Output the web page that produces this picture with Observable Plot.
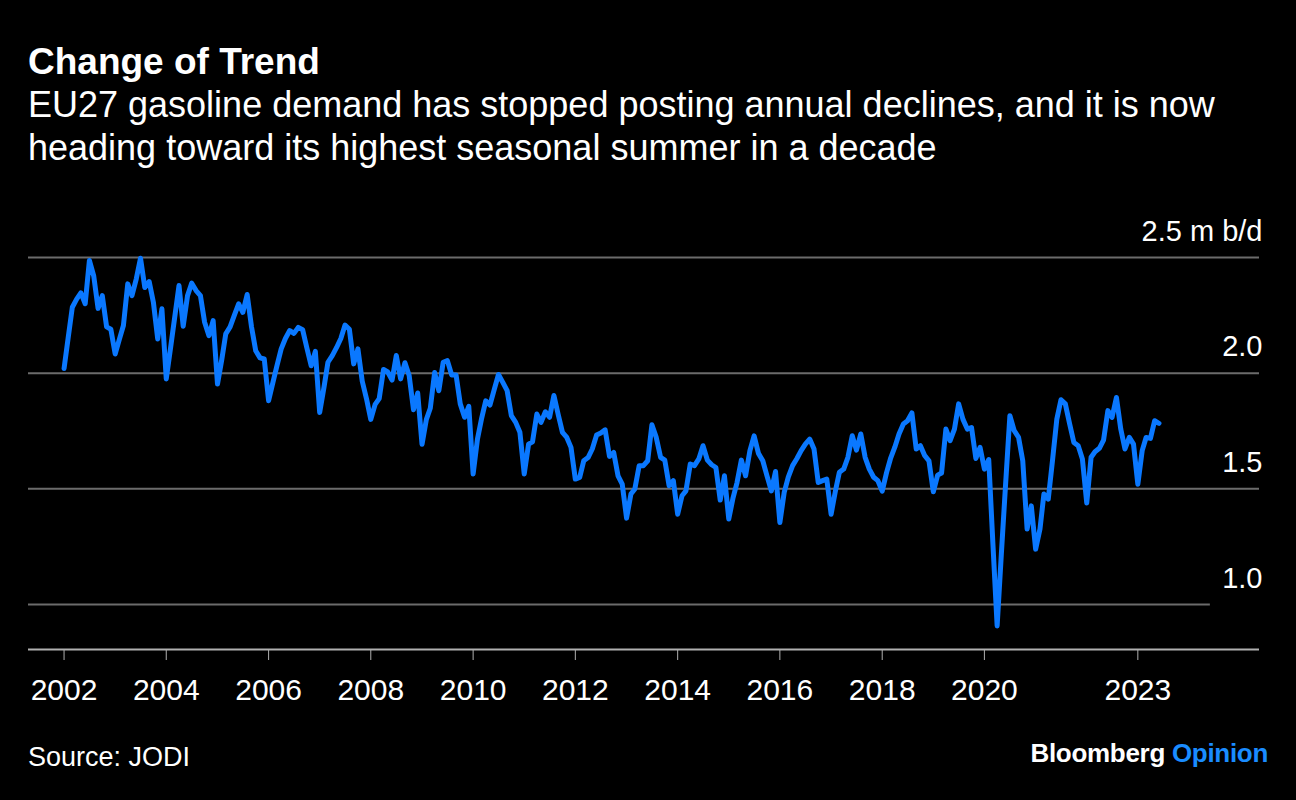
<!DOCTYPE html>
<html>
<head>
<meta charset="utf-8">
<script src="https://cdn.jsdelivr.net/npm/d3@7"></script>
<script src="https://cdn.jsdelivr.net/npm/@observablehq/plot@0.6"></script>
<style>
  html, body { margin: 0; padding: 0; background: #000; }
  body { width: 1296px; height: 800px; overflow: hidden; position: relative; color: #fff;
         font-family: "Liberation Sans", Arial, Helvetica, sans-serif; }
  #title { position: absolute; left: 28px; top: 43px; font-size: 37px; line-height: 38px; font-weight: bold; }
  #subtitle { position: absolute; left: 28px; top: 83px; font-size: 36px; line-height: 43px; }
  #chart { position: absolute; left: 0; top: 200px; }
  #source { position: absolute; left: 28px; top: 743px; font-size: 27px; line-height: 28px; }
  #brand { position: absolute; right: 28px; top: 739px; font-size: 26px; line-height: 28px; font-weight: bold; letter-spacing: -0.3px; }
  #brand span { color: #1a8cff; font-weight: bold; }
</style>
</head>
<body>
<div id="title">Change of Trend</div>
<div id="subtitle">EU27 gasoline demand has stopped posting annual declines, and it is now<br>heading toward its highest seasonal summer in a decade</div>
<div id="chart"></div>
<div id="source">Source: JODI</div>
<div id="brand">Bloomberg <span>Opinion</span></div>
<script>
// Monthly EU27 gasoline demand, million barrels per day, starting January 2002
const startMonth = "2002-01-01";
const demand = [
  2.02, 2.16, 2.285, 2.32, 2.347, 2.30, 2.487, 2.42, 2.28, 2.335, 2.20, 2.19,
  2.083, 2.148, 2.206, 2.386, 2.335, 2.408, 2.497, 2.37, 2.396, 2.307, 2.148, 2.278,
  1.975, 2.11, 2.24, 2.379, 2.203, 2.335, 2.389, 2.357, 2.335, 2.22, 2.162, 2.227,
  1.953, 2.06, 2.17, 2.20, 2.25, 2.30, 2.263, 2.34, 2.20, 2.097, 2.066, 2.061,
  1.881, 1.96, 2.03, 2.105, 2.15, 2.184, 2.172, 2.198, 2.188, 2.11, 2.032, 2.094,
  1.83, 1.94, 2.047, 2.076, 2.11, 2.15, 2.208, 2.19, 2.04, 2.105, 1.965, 1.89,
  1.80, 1.865, 1.89, 2.016, 2.005, 1.97, 2.076, 1.975, 2.045, 1.99, 1.842, 1.914,
  1.692, 1.80, 1.848, 2.003, 1.924, 2.047, 2.054, 1.992, 1.992, 1.867, 1.809, 1.856,
  1.564, 1.715, 1.80, 1.88, 1.862, 1.93, 1.994, 1.96, 1.924, 1.816, 1.787, 1.744,
  1.564, 1.693, 1.703, 1.823, 1.787, 1.833, 1.809, 1.903, 1.82, 1.744, 1.722, 1.679,
  1.542, 1.549, 1.621, 1.635, 1.672, 1.732, 1.741, 1.755, 1.64, 1.657, 1.556, 1.52,
  1.373, 1.477, 1.499, 1.60, 1.60, 1.621, 1.777, 1.722, 1.636, 1.624, 1.513, 1.535,
  1.39, 1.47, 1.491, 1.607, 1.60, 1.629, 1.686, 1.624, 1.604, 1.592, 1.451, 1.556,
  1.369, 1.462, 1.527, 1.624, 1.556, 1.665, 1.729, 1.653, 1.621, 1.556, 1.491, 1.575,
  1.354, 1.484, 1.55, 1.60, 1.63, 1.665, 1.693, 1.715, 1.672, 1.527, 1.535, 1.542,
  1.39, 1.491, 1.571, 1.585, 1.636, 1.729, 1.667, 1.737, 1.636, 1.585, 1.55, 1.535,
  1.49, 1.57, 1.63, 1.68, 1.737, 1.78, 1.794, 1.828, 1.672, 1.686, 1.643, 1.621,
  1.487, 1.559, 1.568, 1.758, 1.708, 1.758, 1.867, 1.80, 1.758, 1.765, 1.631, 1.679,
  1.585, 1.626, 1.27, 0.907, 1.218, 1.526, 1.816, 1.751, 1.722, 1.621, 1.326, 1.426,
  1.239, 1.326, 1.477, 1.455, 1.62, 1.80, 1.885, 1.867, 1.78, 1.70, 1.686, 1.629,
  1.438, 1.636, 1.66, 1.675, 1.71, 1.838, 1.809, 1.895, 1.758, 1.672, 1.722, 1.693,
  1.52, 1.665, 1.722, 1.718, 1.794, 1.783
];
const yTicks = [1.0, 1.5, 2.0, 2.5];
const yTickLabels = ["1.0", "1.5", "2.0", "2.5 m b/d"];
const xTickYears = [2002, 2004, 2006, 2008, 2010, 2012, 2014, 2016, 2018, 2020, 2023];

const start = new Date(startMonth);
const data = demand.map((value, i) => ({ date: d3.utcMonth.offset(start, i), value }));
const xTicks = xTickYears.map(y => new Date(Date.UTC(y, 0, 1)));

const xDomain = [new Date("2001-04-22"), new Date("2025-05-19")];
const yDomain = [0.805, 2.5];

const chart = Plot.plot({
  width: 1296,
  height: 520,
  marginLeft: 28,
  marginRight: 37,
  marginTop: 57,
  marginBottom: 71,
  style: { background: "#000", color: "#fff", fontFamily: "'Liberation Sans', Arial, sans-serif", fontSize: "28px", overflow: "visible" },
  x: { type: "utc", domain: xDomain, axis: null },
  y: { domain: yDomain, axis: null },
  marks: [
    Plot.ruleY(yTicks.filter(d => d > 1), { stroke: "#6b6b6b", strokeWidth: 2 }),
    Plot.ruleY(yTicks.filter(d => d === 1), { x1: xDomain[0], x2: new Date("2024-06-02"), stroke: "#6b6b6b", strokeWidth: 2 }),
    Plot.ruleY([yDomain[0]], { stroke: "#b0b0b0", strokeWidth: 2 }),
    Plot.axisX(xTicks, {
      anchor: "bottom", label: null, tickSize: 11, tickPadding: 18, stroke: "#b0b0b0", fill: "#fff",
      tickFormat: d => String(d.getUTCFullYear()), fontSize: 30
    }),
    Plot.axisY(yTicks, {
      anchor: "right", label: null, tickSize: 0, tickPadding: 3, textAnchor: "end", dy: -26, fill: "#fff",
      tickFormat: d => yTickLabels[yTicks.indexOf(d)], fontSize: 29
    }),
    Plot.line(data, { x: "date", y: "value", stroke: "#0a78ff", strokeWidth: 5, strokeLinejoin: "round", strokeLinecap: "round" })
  ]
});
document.getElementById("chart").appendChild(chart);
</script>
</body>
</html>
